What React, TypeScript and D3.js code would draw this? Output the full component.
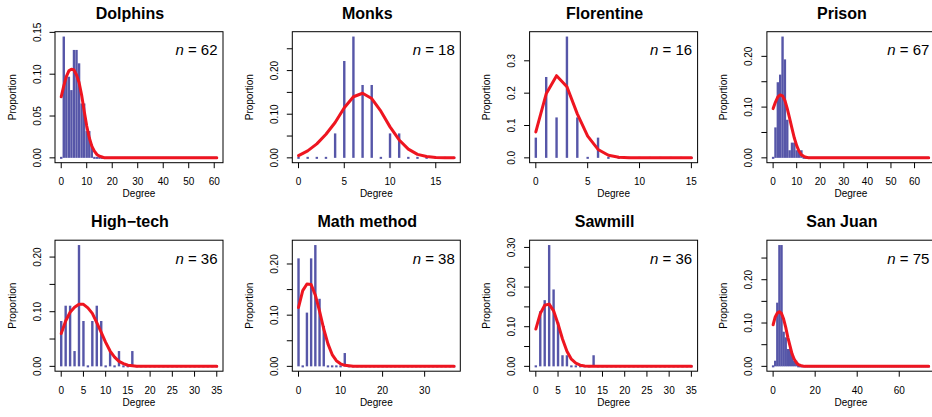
import React from "react";
import * as d3 from "d3";

// ---------- data ----------
const panelTitles = ["Dolphins", "Monks", "Florentine", "Prison", "High\u2212tech", "Math method", "Sawmill", "San Juan"];
const panelN = [62, 18, 16, 67, 36, 38, 36, 75];

// observed degree proportions (index = degree)
const dolphinsProp = [0, 0.145, 0.097, 0.097, 0.081, 0.129, 0.129, 0.113, 0.065, 0.065, 0.032, 0.032, 0.016];
const monksProp = [0, 0, 0, 0, 0.056, 0.222, 0.278, 0.167, 0.167, 0, 0.056, 0.056];
const florentineProp = [0.0625, 0.25, 0.125, 0.375, 0.125, 0, 0.0625];
const prisonProp = [0, 0.06, 0.149, 0.164, 0.239, 0.194, 0.075, 0.015, 0.03, 0.03, 0.015, 0.015, 0.015];
const highTechProp = [0.083, 0.111, 0.111, 0.028, 0.222, 0.083, 0, 0.083, 0.111, 0.083, 0, 0.028, 0, 0.028, 0, 0, 0.028];
const mathProp = [0.211, 0, 0.105, 0.211, 0.237, 0.132, 0.079, 0, 0, 0, 0, 0.026];
const sawmillProp = [0, 0.139, 0.167, 0.306, 0.194, 0.111, 0.028, 0.028, 0, 0, 0, 0, 0, 0.028];
const sanJuanProp = [0, 0.013, 0.147, 0.28, 0.28, 0.08, 0.067, 0.04, 0.04, 0.027, 0.013, 0.013];

// fitted curve (index = degree), zero afterwards up to n-1
const dolphinsFit = [0.073, 0.086, 0.097, 0.104, 0.106, 0.105, 0.099, 0.09, 0.075, 0.056, 0.038, 0.024, 0.014, 0.008, 0.004, 0.002, 0.001, 0];
const monksFit = [0.005, 0.016, 0.032, 0.054, 0.081, 0.115, 0.14, 0.148, 0.136, 0.107, 0.071, 0.041, 0.02, 0.008, 0.003, 0.001, 0.0003, 0];
const florentineFit = [0.08, 0.198, 0.254, 0.22, 0.136, 0.067, 0.026, 0.008, 0.002, 0.0005, 0];
const prisonFit = [0.097, 0.11, 0.12, 0.124, 0.122, 0.113, 0.097, 0.078, 0.058, 0.039, 0.024, 0.013, 0.006, 0.003, 0.001, 0.0004, 0];
const highTechFit = [0.06, 0.083, 0.099, 0.108, 0.1135, 0.1135, 0.107, 0.097, 0.08, 0.062, 0.044, 0.028, 0.017, 0.009, 0.005, 0.002, 0.001, 0];
const mathFit = [0.115, 0.148, 0.161, 0.16, 0.139, 0.108, 0.073, 0.044, 0.023, 0.011, 0.005, 0.002, 0.001, 0];
const sawmillFit = [0.094, 0.133, 0.154, 0.157, 0.14, 0.107, 0.069, 0.038, 0.018, 0.008, 0.003, 0.001, 0];
const sanJuanFit = [0.096, 0.114, 0.123, 0.126, 0.122, 0.109, 0.09, 0.067, 0.048, 0.029, 0.017, 0.009, 0.004, 0.002, 0.001, 0];

// axis ticks
const xTicks60 = [0, 10, 20, 30, 40, 50, 60];
const xTicks15 = [0, 5, 10, 15];
const xTicks35 = [0, 5, 10, 15, 20, 25, 30, 35];
const xTicksMath = [0, 10, 20, 30];
const xTicksSanJuan = [0, 20, 40, 60];

const yTicks015 = [0, 0.05, 0.1, 0.15];
const yLabels015 = ["0.00", "0.05", "0.10", "0.15"];
const yTicks025 = [0, 0.05, 0.1, 0.15, 0.2, 0.25];
const yLabels025 = ["0.00", "", "0.10", "", "0.20", ""];
const yTicks020 = [0, 0.05, 0.1, 0.15, 0.2];
const yLabels020 = ["0.00", "", "0.10", "", "0.20"];
const yTicksFlor = [0, 0.1, 0.2, 0.3];
const yLabelsFlor = ["0.0", "0.1", "0.2", "0.3"];
const yTicks030 = [0, 0.05, 0.1, 0.15, 0.2, 0.25, 0.3];
const yLabels030 = ["0.00", "", "0.10", "", "0.20", "", "0.30"];

const panels = [
  { prop: dolphinsProp, fit: dolphinsFit, xt: xTicks60, yt: yTicks015, yl: yLabels015 },
  { prop: monksProp, fit: monksFit, xt: xTicks15, yt: yTicks025, yl: yLabels025 },
  { prop: florentineProp, fit: florentineFit, xt: xTicks15, yt: yTicksFlor, yl: yLabelsFlor },
  { prop: prisonProp, fit: prisonFit, xt: xTicks60, yt: yTicks020, yl: yLabels020 },
  { prop: highTechProp, fit: highTechFit, xt: xTicks35, yt: yTicks020, yl: yLabels020 },
  { prop: mathProp, fit: mathFit, xt: xTicksMath, yt: yTicks020, yl: yLabels020 },
  { prop: sawmillProp, fit: sawmillFit, xt: xTicks35, yt: yTicks030, yl: yLabels030 },
  { prop: sanJuanProp, fit: sanJuanFit, xt: xTicksSanJuan, yt: yTicks025, yl: yLabels025 },
].map((p, i) => ({ ...p, title: panelTitles[i], n: panelN[i] }));

// ---------- layout ----------
const W = 932;
const H = 417;
const FONT = "'Liberation Sans', Arial, Helvetica, sans-serif";
const BAR = "#5656a8";
const RED = "#ee1520";
const colStep = 237.3;
const rowStep = 208.5;
const left0 = 55;
const top0 = 31.7;
const boxW = 168;
const boxH = 131;

function Panel({ p, idx }: { p: any; idx: number }) {
  const col = idx % 4;
  const row = Math.floor(idx / 4);
  const left = left0 + col * colStep;
  const top = top0 + row * rowStep;
  const right = left + boxW;
  const bottom = top + boxH;
  const xMax = p.n - 1;
  const yMax = Math.max(d3.max(p.prop as number[])!, d3.max(p.fit as number[])!);
  const x = d3.scaleLinear().domain([-0.04 * xMax, xMax * 1.04]).range([left, right]);
  const y = d3.scaleLinear().domain([-0.04 * yMax, yMax * 1.04]).range([bottom, top]);
  const degrees = d3.range(0, xMax + 1);
  const fitPts: [number, number][] = (p.fit as number[]).map((v, i) => [i, v] as [number, number]);
  fitPts.push([xMax, 0]);
  const line = d3.line<[number, number]>().x((d) => x(d[0])).y((d) => y(d[1]));
  const bw = 2.4;
  const cx = (left + right) / 2;
  const cy = (top + bottom) / 2;
  return (
    <g>
      <text x={cx - 9} y={top - 13.2} textAnchor="middle" fontSize={16} fontWeight="bold" fontFamily={FONT}>
        {p.title}
      </text>
      {degrees.map((d) => {
        const v = (p.prop as number[])[d] ?? 0;
        if (v > 0) {
          return <rect key={d} x={x(d) - bw / 2} y={y(v)} width={bw} height={y(0) - y(v)} fill={BAR} />;
        }
        return <rect key={d} x={x(d) - bw / 2} y={y(0) - 1} width={bw} height={2} fill={BAR} />;
      })}
      <path d={line(fitPts)!} fill="none" stroke={RED} strokeWidth={3} strokeLinejoin="round" strokeLinecap="round" />
      <rect x={left} y={top} width={boxW} height={boxH} fill="none" stroke="#000" strokeWidth={1} />
      {(p.xt as number[]).map((t) => (
        <g key={"x" + t}>
          <line x1={x(t)} x2={x(t)} y1={bottom} y2={bottom + 5.5} stroke="#000" strokeWidth={1} />
          <text x={x(t)} y={bottom + 22.6} textAnchor="middle" fontSize={10} fontFamily={FONT}>
            {t}
          </text>
        </g>
      ))}
      {(p.yt as number[]).map((t, i) => (
        <g key={"y" + i}>
          <line x1={left - 5.5} x2={left} y1={y(t)} y2={y(t)} stroke="#000" strokeWidth={1} />
          {p.yl[i] ? (
            <text
              transform={`translate(${left - 14.5},${y(t)}) rotate(-90)`}
              textAnchor="middle"
              fontSize={10}
              fontFamily={FONT}
            >
              {p.yl[i]}
            </text>
          ) : null}
        </g>
      ))}
      <text x={cx} y={bottom + 34.5} textAnchor="middle" fontSize={10} fontFamily={FONT}>
        Degree
      </text>
      <text transform={`translate(${left - 39.5},${cy}) rotate(-90)`} textAnchor="middle" fontSize={10} fontFamily={FONT}>
        Proportion
      </text>
      <text x={right - 5.5} y={top + 23.3} textAnchor="end" fontSize={15} fontFamily={FONT}>
        <tspan fontStyle="italic">n</tspan>
        {" = " + p.n}
      </text>
    </g>
  );
}

export default function App() {
  return (
    <svg
      width={W}
      height={H}
      viewBox={`0 0 ${W} ${H}`}
      style={{ position: "absolute", left: 0, top: 0, background: "#fff" }}
    >
      <rect x={0} y={0} width={W} height={H} fill="#fff" />
      {panels.map((p, i) => (
        <Panel key={i} p={p} idx={i} />
      ))}
    </svg>
  );
}
